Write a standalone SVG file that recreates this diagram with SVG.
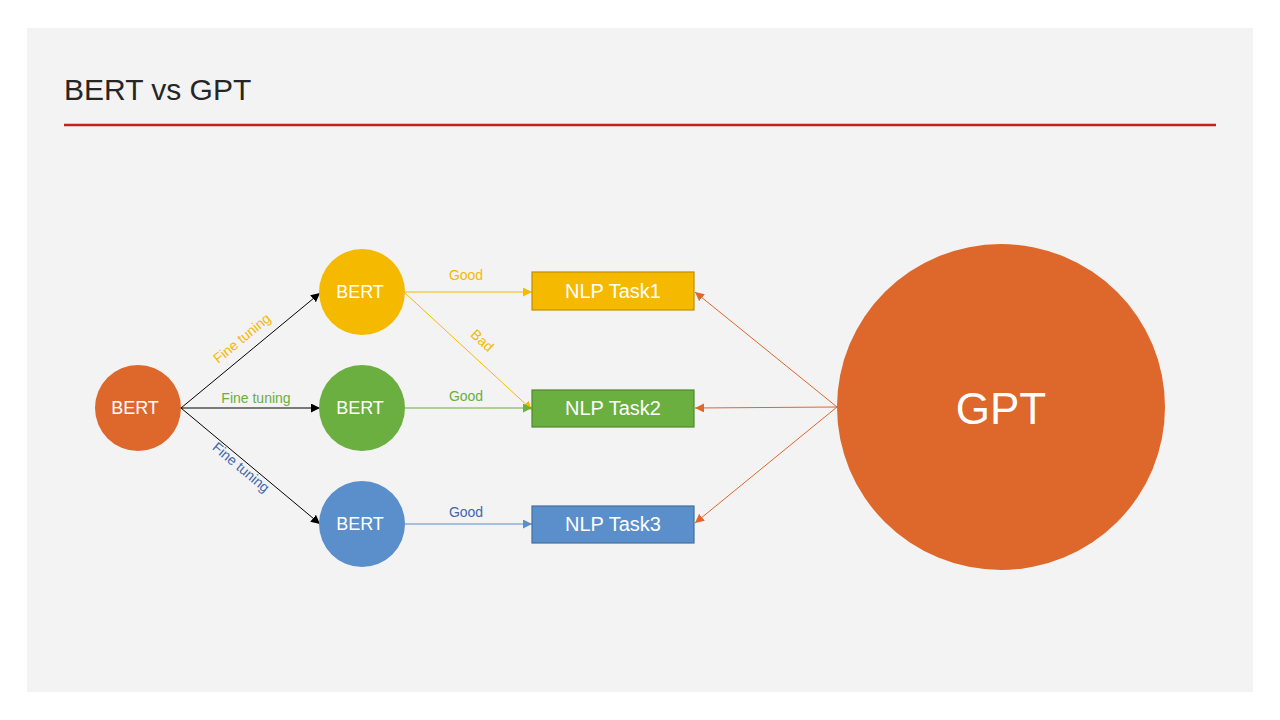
<svg xmlns="http://www.w3.org/2000/svg" width="1280" height="720" viewBox="0 0 1280 720">
<style>
text{font-family:"Liberation Sans",Arial,sans-serif}
.ctext{fill:#fff;font-size:18px;text-anchor:middle;dominant-baseline:central}
.ttext{fill:#fff;font-size:20px;text-anchor:middle;dominant-baseline:central}
.lbl{font-size:14px;text-anchor:middle}
.blk{stroke:#000;stroke-width:1;fill:none}
.yl{stroke:#F5BA00;stroke-width:1;fill:none}
.gl{stroke:#6AAF3F;stroke-width:1;fill:none}
.bl{stroke:#5A8FCB;stroke-width:1;fill:none}
.ol{stroke:#DE672B;stroke-width:1;fill:none}
</style>
<defs>
<marker id="aBlk" viewBox="0 0 10 10" refX="10" refY="5" markerWidth="9" markerHeight="9" markerUnits="userSpaceOnUse" orient="auto"><path d="M0,0L10,5L0,10z" fill="#000"/></marker>
<marker id="aY" viewBox="0 0 10 10" refX="10" refY="5" markerWidth="9" markerHeight="9" markerUnits="userSpaceOnUse" orient="auto"><path d="M0,0L10,5L0,10z" fill="#F5BA00"/></marker>
<marker id="aG" viewBox="0 0 10 10" refX="10" refY="5" markerWidth="9" markerHeight="9" markerUnits="userSpaceOnUse" orient="auto"><path d="M0,0L10,5L0,10z" fill="#6AAF3F"/></marker>
<marker id="aB" viewBox="0 0 10 10" refX="10" refY="5" markerWidth="9" markerHeight="9" markerUnits="userSpaceOnUse" orient="auto"><path d="M0,0L10,5L0,10z" fill="#5A8FCB"/></marker>
<marker id="aO" viewBox="0 0 10 10" refX="10" refY="5" markerWidth="9" markerHeight="9" markerUnits="userSpaceOnUse" orient="auto"><path d="M0,0L10,5L0,10z" fill="#DE672B"/></marker>
</defs>
<rect x="0" y="0" width="1280" height="720" fill="#fff"/>
<rect x="27" y="28" width="1226" height="664" fill="#F3F3F3"/>
<text x="64" y="100" font-size="30" fill="#262626">BERT vs GPT</text>
<line x1="64" y1="125" x2="1216" y2="125" stroke="#C0201F" stroke-width="2.5"/>

<g id="connectors">
<line class="blk" x1="181" y1="408" x2="320" y2="293" marker-end="url(#aBlk)"/>
<line class="blk" x1="181" y1="408" x2="320" y2="408" marker-end="url(#aBlk)"/>
<line class="blk" x1="181" y1="408" x2="320" y2="524" marker-end="url(#aBlk)"/>
<line class="yl" x1="405" y1="292" x2="532" y2="292" marker-end="url(#aY)"/>
<line class="yl" x1="405" y1="293" x2="532" y2="410" marker-end="url(#aY)"/>
<line class="gl" x1="405" y1="408" x2="532" y2="408" marker-end="url(#aG)"/>
<line class="bl" x1="405" y1="524" x2="532" y2="524" marker-end="url(#aB)"/>
<line class="ol" x1="837" y1="407" x2="695" y2="292" marker-end="url(#aO)"/>
<line class="ol" x1="837" y1="407" x2="695" y2="408" marker-end="url(#aO)"/>
<line class="ol" x1="837" y1="407" x2="695" y2="523" marker-end="url(#aO)"/>
<text class="lbl" fill="#F5BA00" transform="translate(245,342) rotate(-39.6)">Fine tuning</text>
<text class="lbl" fill="#6AAF3F" x="256" y="403">Fine tuning</text>
<text class="lbl" fill="#3F67AE" transform="translate(238,471) rotate(39.8)">Fine tuning</text>
<text class="lbl" fill="#F5BA00" x="466" y="280">Good</text>
<text class="lbl" fill="#F5BA00" transform="translate(479,344) rotate(42.7)">Bad</text>
<text class="lbl" fill="#6AAF3F" x="466" y="401">Good</text>
<text class="lbl" fill="#3F67AE" x="466" y="517">Good</text>
</g>

<g id="bert0"><circle cx="138" cy="408" r="43" fill="#DE672B"/><text class="ctext" x="135" y="408">BERT</text></g>
<g id="bert1"><circle cx="362" cy="292" r="43" fill="#F5BA00"/><text class="ctext" x="360" y="292">BERT</text></g>
<g id="bert2"><circle cx="362" cy="408" r="43" fill="#6AAF3F"/><text class="ctext" x="360" y="408">BERT</text></g>
<g id="bert3"><circle cx="362" cy="524" r="43" fill="#5A8FCB"/><text class="ctext" x="360" y="524">BERT</text></g>

<g id="task1"><rect x="532" y="272" width="162" height="38" fill="#F5BA00" stroke="#BF9000" stroke-width="1.2"/><text class="ttext" x="613" y="291">NLP Task1</text></g>
<g id="task2"><rect x="532" y="390" width="162" height="37" fill="#6AAF3F" stroke="#4E8A2E" stroke-width="1.2"/><text class="ttext" x="613" y="408">NLP Task2</text></g>
<g id="task3"><rect x="532" y="506" width="162" height="37" fill="#5A8FCB" stroke="#41719C" stroke-width="1.2"/><text class="ttext" x="613" y="524">NLP Task3</text></g>

<g id="gpt"><ellipse cx="1001" cy="407" rx="164" ry="163" fill="#DE672B"/><text x="1001" y="408" font-size="44" fill="#fff" text-anchor="middle" dominant-baseline="central">GPT</text></g>
</svg>
